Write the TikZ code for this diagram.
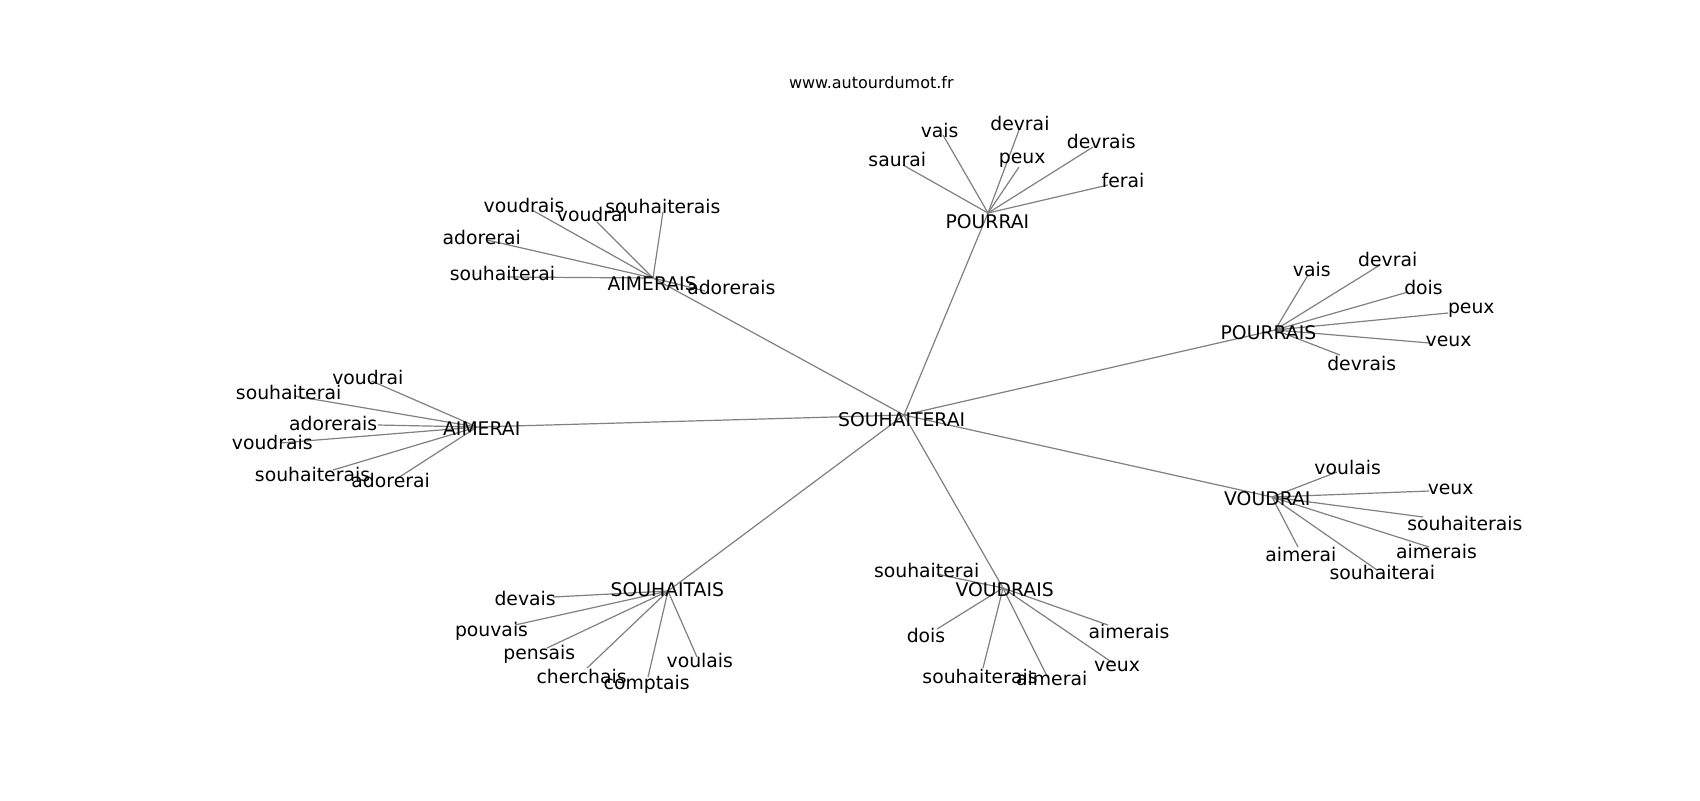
\documentclass[tikz,border=0pt]{standalone}
\usepackage{fontspec}
\setmainfont{DejaVu Sans}
\pgfdeclarelayer{bg}
\pgfdeclarelayer{paper}
\pgfsetlayers{paper,bg,main}
\newcommand{\wn}[6]{\node[pt] (#1) at (#2,#3) {}; \node[lab] (#1-t) at (#4,#5) {#6};}
\begin{document}
\begin{tikzpicture}[x=0.5pt,y=-0.5pt,
  pt/.style={inner sep=0pt,minimum size=0pt,outer sep=0pt},
  lab/.style={inner sep=0pt,text=black,font=\fontsize{9.4pt}{11pt}\selectfont},
  ttl/.style={inner sep=0pt,text=black,font=\fontsize{8pt}{10pt}\selectfont},
  edge/.style={draw=gray,line width=0.6pt}]
\begin{pgfonlayer}{paper}
\fill[white] (0,0) rectangle (1700,800);
\end{pgfonlayer}
\useasboundingbox (0,0) rectangle (1700,800);
\node[ttl] (title) at (871.3,82.5) {www.autourdumot.fr};
% hub
\wn{S}{904}{415}{901.6}{419.9}{SOUHAITERAI}
% POURRAI
\wn{PA}{988}{213}{987.4}{221.3}{POURRAI}
\wn{pa1}{903}{165}{897.3}{159.5}{saurai}
\wn{pa2}{943}{135}{939.6}{130.2}{vais}
\wn{pa3}{1019}{130}{1019.9}{123.7}{devrai}
\wn{pa4}{1019}{167}{1022.1}{160.6}{peux}
\wn{pa5}{1093}{147}{1101.3}{141.1}{devrais}
\wn{pa6}{1108}{185}{1123}{180.1}{ferai}
% AIMERAIS
\wn{AS}{653}{278}{652.1}{283.2}{AIMERAIS}
\wn{as1}{532}{210}{524.1}{205.1}{voudrais}
\wn{as2}{597}{222}{592.4}{214.8}{voudrai}
\wn{as3}{663}{212}{662.9}{206.2}{souhaiterais}
\wn{as4}{487}{240}{481.7}{237.6}{adorerai}
\wn{as5}{507}{277}{502.4}{273.4}{souhaiterai}
\wn{as6}{705}{291}{731.3}{287.5}{adorerais}
% POURRAIS
\wn{PS}{1275}{330}{1268.4}{333.1}{POURRAIS}
\wn{ps1}{1308}{275}{1311.8}{269.1}{vais}
\wn{ps2}{1380}{265}{1387.7}{259.3}{devrai}
\wn{ps3}{1408}{292}{1423.5}{287.5}{dois}
\wn{ps4}{1448}{313}{1471.3}{310.3}{peux}
\wn{ps5}{1430}{343}{1448.5}{341.8}{veux}
\wn{ps6}{1340}{355}{1361.7}{363.5}{devrais}
% AIMERAI
\wn{AI}{477}{427}{481.7}{428.6}{AIMERAI}
\wn{ai1}{371.5}{381}{367.8}{377.6}{voudrai}
\wn{ai2}{294.6}{396}{288.6}{392.8}{souhaiterai}
\wn{ai3}{378}{425}{333.1}{423.2}{adorerais}
\wn{ai4}{280}{443}{272.3}{442.7}{voudrais}
\wn{ai5}{333}{470}{312.5}{474.1}{souhaiterais}
\wn{ai6}{398}{478}{390.6}{480.7}{adorerai}
% VOUDRAI
\wn{VA}{1272}{497}{1267.3}{499.1}{VOUDRAI}
\wn{va1}{1337}{472}{1347.6}{467.6}{voulais}
\wn{va2}{1429}{491}{1450.6}{489.3}{veux}
\wn{va3}{1423}{517}{1464.8}{523}{souhaiterais}
\wn{va4}{1429}{547}{1436.5}{551.2}{aimerais}
\wn{va5}{1298}{547}{1300.9}{554.4}{aimerai}
\wn{va6}{1377}{570}{1382.3}{572.9}{souhaiterai}
% SOUHAITAIS
\wn{ST}{668}{591}{667.3}{589.2}{SOUHAITAIS}
\wn{st1}{553}{597}{525.1}{598.9}{devais}
\wn{st2}{515}{625}{491.5}{631.5}{pouvais}
\wn{st3}{547}{648}{539.2}{654.3}{pensais}
\wn{st4}{587}{668}{581.6}{676}{cherchais}
\wn{st5}{648}{677}{646.7}{684.6}{comptais}
\wn{st6}{697}{657}{699.8}{660.8}{voulais}
% VOUDRAIS
\wn{VS}{1003}{588}{1004.7}{589.2}{VOUDRAIS}
\wn{vs1}{937}{574}{926.7}{570.7}{souhaiterai}
\wn{vs2}{937}{629}{926}{635}{dois}
\wn{vs3}{983}{668}{980}{676}{souhaiterais}
\wn{vs4}{1048}{678}{1051.7}{678.3}{aimerai}
\wn{vs5}{1108}{625}{1129}{631.7}{aimerais}
\wn{vs6}{1113}{663}{1117}{666.7}{veux}
\begin{pgfonlayer}{bg}
\foreach \h in {PA,AS,PS,AI,VA,ST,VS} \draw[edge] (S) -- (\h);
\foreach \h/\l in {PA/pa,AS/as,PS/ps,AI/ai,VA/va,ST/st,VS/vs}
  \foreach \i in {1,...,6} \draw[edge] (\h) -- (\l\i);
\end{pgfonlayer}
\end{tikzpicture}
\end{document}
